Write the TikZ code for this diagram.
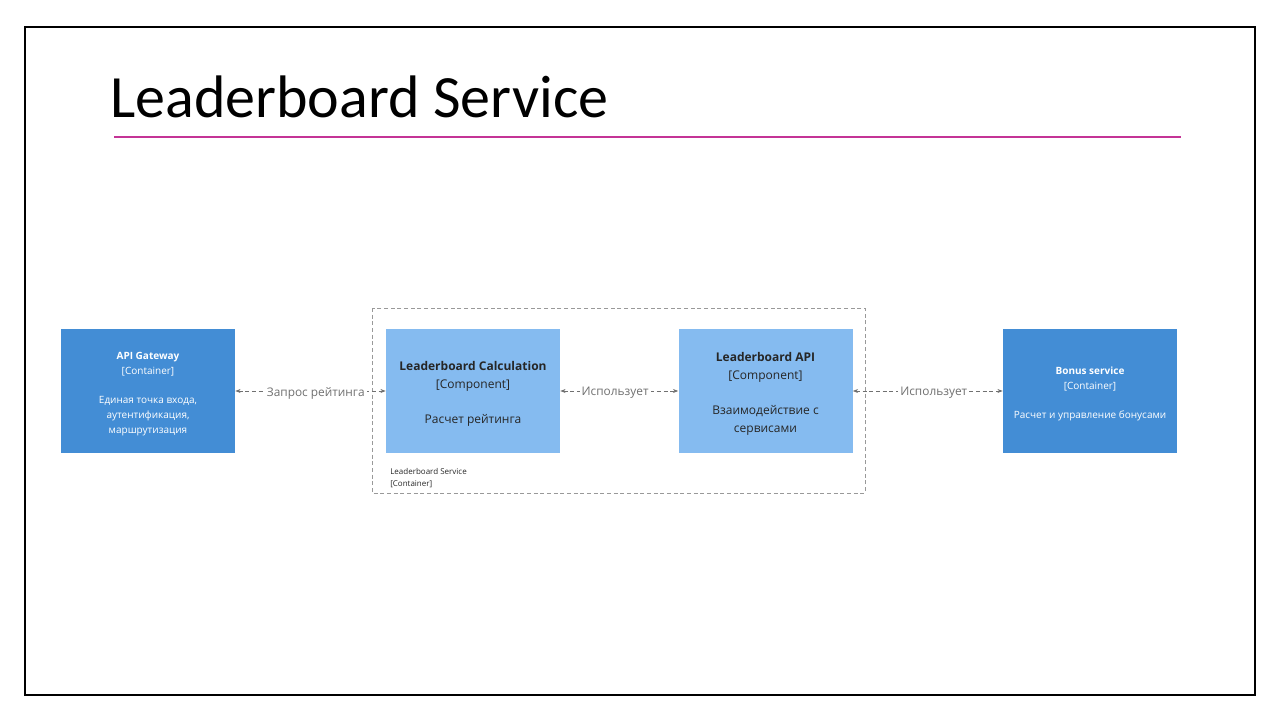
\documentclass[tikz,border=0pt]{standalone}
\usepackage{fontspec}
\setmainfont{Open Sans}
\newfontfamily\titlefont{Carlito}
\usetikzlibrary{arrows.meta}
\definecolor{containerblue}{HTML}{438DD5}
\definecolor{componentblue}{HTML}{85BBF0}
\definecolor{relgray}{HTML}{707070}
\definecolor{accentline}{RGB}{196,52,150}
\newcommand{\tagline}[1]{{[#1]}}
\tikzset{
  element/.style={draw=none, minimum width=130.5pt, minimum height=93pt,
    inner sep=0pt},
  container/.style={element, fill=containerblue},
  component/.style={element, fill=componentblue},
  containertext/.style={align=center, inner sep=0pt, text=white,
    font=\fontsize{7.5}{11.25}\selectfont},
  componenttext/.style={align=center, inner sep=0pt, text=black!85,
    font=\fontsize{9}{13.5}\selectfont},
  rel/.style={draw=relgray, densely dashed, line width=0.6pt,
    {Stealth[length=4pt,width=3pt]}-{Stealth[length=4pt,width=3pt]}},
  rellabel/.style={fill=white, text=relgray, inner sep=1.5pt, yshift=-1.5pt,
    font=\fontsize{8.9}{12}\selectfont},
  boundary/.style={draw=gray!80, densely dashed, line width=0.6pt}
}
\begin{document}
\begin{tikzpicture}[x=0.75pt,y=-0.75pt]
  \useasboundingbox (0,0) rectangle (1280,720);
  % slide frame
  \draw[black, line width=0.8pt] (25,27) rectangle (1255,695);
  % title and rule
  \node[anchor=base west, inner sep=0pt, font=\titlefont\fontsize{45}{50}\selectfont] (title) at (110,118) {Leaderboard Service};
  \draw[accentline, line width=1.3pt] (114,137) -- (1181,137);

  % container boundary
  \draw[boundary] (372,308) rectangle (865,493);
  \node[anchor=base west, inner sep=0pt, align=left, font=\fontsize{6}{9}\selectfont, text=black!85] (blabel) at (390,486)
    {Leaderboard Service\\\tagline{Container}};

  % element boxes
  \node[container] (gw) at (148,391) {};
  \node[component] (calc) at (473,391) {};
  \node[component] (api) at (765.5,391) {};
  \node[container] (bonus) at (1090,391) {};

  % element texts
  \node[containertext] (gwtext) at ([yshift=-2.2pt]gw.center)
    {\textbf{API Gateway}\\\tagline{Container}\\[10pt] Единая точка входа,\\ аутентификация,\\ маршрутизация};
  \node[componenttext] (calctext) at ([yshift=-2.2pt]calc.center)
    {\textbf{Leaderboard Calculation}\\\tagline{Component}\\[12.5pt] Расчет рейтинга};
  \node[componenttext] (apitext) at ([yshift=-2.2pt]api.center)
    {\textbf{Leaderboard API}\\\tagline{Component}\\[12.5pt] Взаимодействие с\\ сервисами};
  \node[containertext] (bonustext) at ([yshift=-2.2pt]bonus.center)
    {\textbf{Bonus service}\\\tagline{Container}\\[10pt] Расчет и управление бонусами};

  % relations
  \draw[rel] (gw.east) -- node[rellabel, pos=0.535] {Запрос рейтинга} (calc.west);
  \draw[rel] (calc.east) -- node[rellabel, pos=0.465] {Использует} (api.west);
  \draw[rel] (api.east) -- node[rellabel, pos=0.54] {Использует} (bonus.west);
\end{tikzpicture}
\end{document}
